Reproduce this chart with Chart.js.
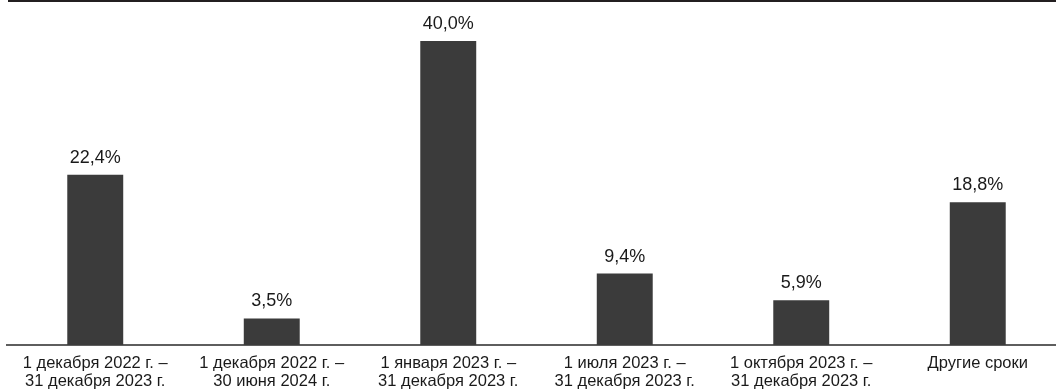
<!DOCTYPE html>
<html>
<head>
<meta charset="utf-8">
<script src="https://cdn.jsdelivr.net/npm/chart.js@4/dist/chart.umd.min.js"></script>
<style>
  html, body { margin: 0; padding: 0; background: #fff; overflow: hidden; }
  #wrap { position: relative; width: 1068px; height: 400px; }
</style>
</head>
<body>
<div id="wrap"><canvas id="chart"></canvas></div>
<script>
// Categories (two-line labels) and shares, %
const periods = [
    ['1 декабря 2022 г. –', '31 декабря 2023 г.'],
    ['1 декабря 2022 г. –', '30 июня 2024 г.'],
    ['1 января 2023 г. –', '31 декабря 2023 г.'],
    ['1 июля 2023 г. –', '31 декабря 2023 г.'],
    ['1 октября 2023 г. –', '31 декабря 2023 г.'],
    'Другие сроки'
];
const shares = [22.4, 3.5, 40.0, 9.4, 5.9, 18.8];

const FONT = '"Liberation Sans", Arial, sans-serif';

// Values above bars, comma decimal
const valueLabels = {
    id: 'valueLabels',
    afterDatasetsDraw(chart) {
        const ctx = chart.ctx;
        const meta = chart.getDatasetMeta(0);
        ctx.save();
        ctx.font = '18px ' + FONT;
        ctx.fillStyle = '#1a1a1a';
        ctx.textAlign = 'center';
        ctx.textBaseline = 'alphabetic';
        meta.data.forEach(function(bar, i) {
            const txt = shares[i].toFixed(1).replace('.', ',') + '%';
            ctx.fillText(txt, bar.x, bar.y - 12);
        });
        ctx.restore();
    }
};

// Dark rule along the top edge
const topRule = {
    id: 'topRule',
    beforeDraw(chart) {
        const ctx = chart.ctx;
        ctx.save();
        ctx.fillStyle = '#231f20';
        ctx.fillRect(chart.chartArea.left + 1, 0, chart.width, 2);
        ctx.restore();
    }
};

new Chart(document.getElementById('chart'), {
    type: 'bar',
    data: {
        labels: periods,
        datasets: [{
            data: shares,
            backgroundColor: '#3b3b3b',
            borderWidth: 0,
            categoryPercentage: 1,
            barPercentage: 0.317
        }]
    },
    options: {
        responsive: true,
        maintainAspectRatio: false,
        animation: false,
        layout: {
            padding: { left: 7, right: 2, top: 3, bottom: 0 }
        },
        plugins: {
            legend: { display: false },
            tooltip: { enabled: false }
        },
        scales: {
            y: {
                display: false,
                min: 0,
                max: 45
            },
            x: {
                grid: { display: false, drawTicks: false },
                border: { display: true, color: '#5e5e5e', width: 2 },
                ticks: {
                    color: '#1a1a1a',
                    padding: 10,
                    maxRotation: 0,
                    autoSkip: false,
                    font: { family: FONT, size: 16.5, lineHeight: 1.06 }
                }
            }
        }
    },
    plugins: [valueLabels, topRule]
});
</script>
</body>
</html>
